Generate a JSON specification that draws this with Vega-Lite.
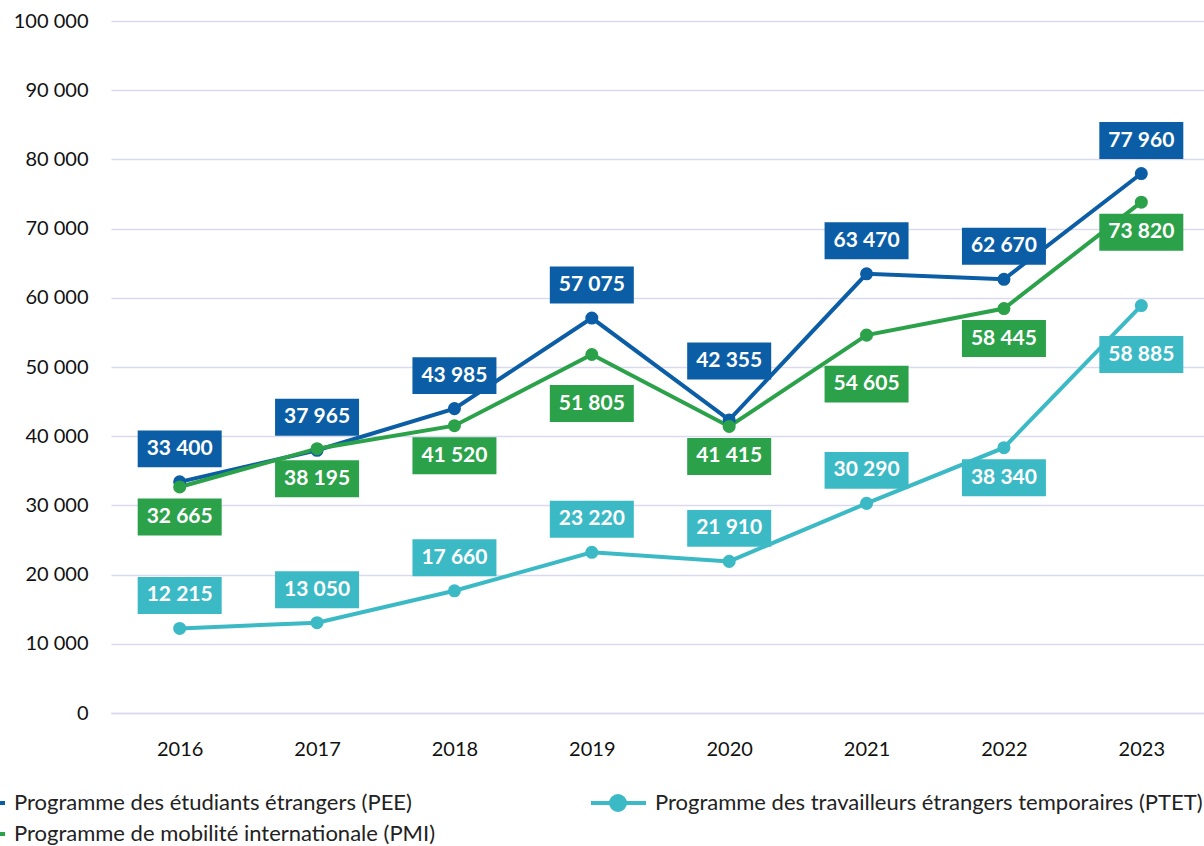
{
  "$schema": "https://vega.github.io/schema/vega-lite/v6.json",
  "width": 1099,
  "height": 692,
  "autosize": {"type": "none"},
  "padding": {"left": 111, "top": 21, "right": 0, "bottom": 133},
  "background": "white",
  "config": {
    "view": {"stroke": null},
    "font": "Lato",
    "locale": {"number": {"decimal": ",", "thousands": " ", "grouping": [3], "currency": ["", " €"]}}
  },
  "data": {
    "values": [
      {"year": "2016", "series": "Programme des étudiants étrangers (PEE)", "value": 33400, "pos": "above"},
      {"year": "2017", "series": "Programme des étudiants étrangers (PEE)", "value": 37965, "pos": "above"},
      {"year": "2018", "series": "Programme des étudiants étrangers (PEE)", "value": 43985, "pos": "above"},
      {"year": "2019", "series": "Programme des étudiants étrangers (PEE)", "value": 57075, "pos": "above"},
      {"year": "2020", "series": "Programme des étudiants étrangers (PEE)", "value": 42355, "pos": "farabove"},
      {"year": "2021", "series": "Programme des étudiants étrangers (PEE)", "value": 63470, "pos": "above"},
      {"year": "2022", "series": "Programme des étudiants étrangers (PEE)", "value": 62670, "pos": "above"},
      {"year": "2023", "series": "Programme des étudiants étrangers (PEE)", "value": 77960, "pos": "above"},
      {"year": "2016", "series": "Programme des travailleurs étrangers temporaires (PTET)", "value": 12215, "pos": "above"},
      {"year": "2017", "series": "Programme des travailleurs étrangers temporaires (PTET)", "value": 13050, "pos": "above"},
      {"year": "2018", "series": "Programme des travailleurs étrangers temporaires (PTET)", "value": 17660, "pos": "above"},
      {"year": "2019", "series": "Programme des travailleurs étrangers temporaires (PTET)", "value": 23220, "pos": "above"},
      {"year": "2020", "series": "Programme des travailleurs étrangers temporaires (PTET)", "value": 21910, "pos": "above"},
      {"year": "2021", "series": "Programme des travailleurs étrangers temporaires (PTET)", "value": 30290, "pos": "above"},
      {"year": "2022", "series": "Programme des travailleurs étrangers temporaires (PTET)", "value": 38340, "pos": "below"},
      {"year": "2023", "series": "Programme des travailleurs étrangers temporaires (PTET)", "value": 58885, "pos": "farbelow"},
      {"year": "2016", "series": "Programme de mobilité internationale (PMI)", "value": 32665, "pos": "below"},
      {"year": "2017", "series": "Programme de mobilité internationale (PMI)", "value": 38195, "pos": "below"},
      {"year": "2018", "series": "Programme de mobilité internationale (PMI)", "value": 41520, "pos": "below"},
      {"year": "2019", "series": "Programme de mobilité internationale (PMI)", "value": 51805, "pos": "farbelow"},
      {"year": "2020", "series": "Programme de mobilité internationale (PMI)", "value": 41415, "pos": "below"},
      {"year": "2021", "series": "Programme de mobilité internationale (PMI)", "value": 54605, "pos": "farbelow"},
      {"year": "2022", "series": "Programme de mobilité internationale (PMI)", "value": 58445, "pos": "below"},
      {"year": "2023", "series": "Programme de mobilité internationale (PMI)", "value": 73820, "pos": "below"}
    ]
  },
  "encoding": {
    "x": {
      "field": "year", "type": "ordinal",
      "scale": {"type": "point", "padding": 0.5},
      "axis": {"title": null, "labelAngle": 0, "labelFont": "Lato", "labelFontSize": 20, "labelColor": "#111", "labelPadding": 26, "ticks": false, "domain": true, "domainColor": "#d9d9ef", "domainWidth": 1.5, "grid": false}
    },
    "y": {
      "field": "value", "type": "quantitative",
      "scale": {"domain": [0, 100000], "nice": false},
      "axis": {"title": null, "tickCount": 10, "labelExpr": "format(datum.value, ',')", "labelFont": "Lato", "labelFontSize": 20, "labelColor": "#111", "labelPadding": 23, "ticks": false, "domain": false, "grid": true, "gridColor": "#d9d9ef", "gridWidth": 1.5}
    },
    "color": {
      "field": "series", "type": "nominal",
      "scale": {
        "domain": ["Programme des étudiants étrangers (PEE)", "Programme de mobilité internationale (PMI)", "Programme des travailleurs étrangers temporaires (PTET)"],
        "range": ["#0b5ea6", "#2ba24a", "#3bbac6"]
      },
      "legend": {
        "orient": "none", "legendX": -124, "legendY": 771, "columns": 2, "columnPadding": 146, "rowPadding": 1,
        "title": null, "padding": 0, "labelFont": "Lato", "labelFontSize": 22, "labelColor": "#222", "labelOffset": 5, "labelLimit": 1000,
        "symbolType": "M-6.86,0H1M-4,0A1,1,0,1,1,-2,0A1,1,0,1,1,-4,0Z", "symbolSize": 196, "symbolStrokeWidth": 4,
        "encode": {"symbols": {"update": {"fill": {"signal": "scale('color', datum.value)"}, "stroke": {"signal": "scale('color', datum.value)"}, "opacity": {"value": 1}}}}
      }
    }
  },
  "layer": [
    {"mark": {"type": "line", "strokeWidth": 4}},
    {"mark": {"type": "point", "filled": true, "size": 170, "opacity": 1}},
    {"transform": [{"filter": "datum.pos === 'above'"}], "mark": {"type": "point", "filled": true, "opacity": 1, "size": 7056, "shape": "M-1,-0.44H1V0.44H-1Z", "yOffset": -33}},
    {"transform": [{"filter": "datum.pos === 'farabove'"}], "mark": {"type": "point", "filled": true, "opacity": 1, "size": 7056, "shape": "M-1,-0.44H1V0.44H-1Z", "yOffset": -59}},
    {"transform": [{"filter": "datum.pos === 'below'"}], "mark": {"type": "point", "filled": true, "opacity": 1, "size": 7056, "shape": "M-1,-0.44H1V0.44H-1Z", "yOffset": 30}},
    {"transform": [{"filter": "datum.pos === 'farbelow'"}], "mark": {"type": "point", "filled": true, "opacity": 1, "size": 7056, "shape": "M-1,-0.44H1V0.44H-1Z", "yOffset": 49}},
    {"transform": [{"filter": "datum.pos === 'above'"}], "mark": {"type": "text", "font": "Lato", "fontSize": 21, "fontWeight": "bold", "baseline": "middle", "align": "center", "yOffset": -33}, "encoding": {"text": {"field": "value", "type": "quantitative", "format": ","}, "color": {"value": "white"}}},
    {"transform": [{"filter": "datum.pos === 'farabove'"}], "mark": {"type": "text", "font": "Lato", "fontSize": 21, "fontWeight": "bold", "baseline": "middle", "align": "center", "yOffset": -59}, "encoding": {"text": {"field": "value", "type": "quantitative", "format": ","}, "color": {"value": "white"}}},
    {"transform": [{"filter": "datum.pos === 'below'"}], "mark": {"type": "text", "font": "Lato", "fontSize": 21, "fontWeight": "bold", "baseline": "middle", "align": "center", "yOffset": 30}, "encoding": {"text": {"field": "value", "type": "quantitative", "format": ","}, "color": {"value": "white"}}},
    {"transform": [{"filter": "datum.pos === 'farbelow'"}], "mark": {"type": "text", "font": "Lato", "fontSize": 21, "fontWeight": "bold", "baseline": "middle", "align": "center", "yOffset": 49}, "encoding": {"text": {"field": "value", "type": "quantitative", "format": ","}, "color": {"value": "white"}}}
  ]
}
